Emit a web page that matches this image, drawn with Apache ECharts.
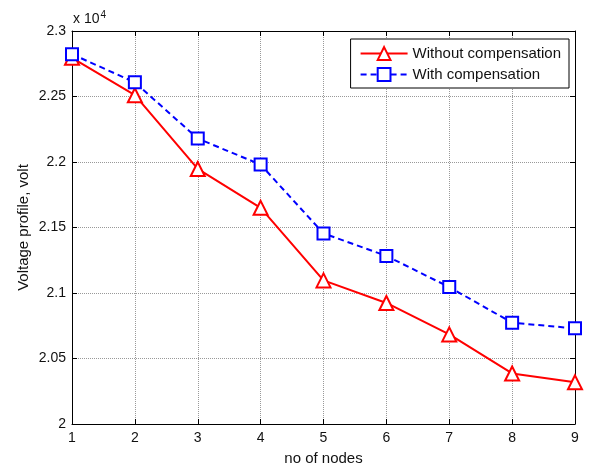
<!DOCTYPE html>
<html>
<head>
<meta charset="utf-8">
<script src="https://cdn.jsdelivr.net/npm/echarts@6/dist/echarts.min.js"></script>
<style>
  html, body { margin: 0; padding: 0; background: #fff; }
  #chart { width: 592px; height: 471px; }
</style>
</head>
<body>
<div id="chart"></div>
<script>
  // node numbers and voltages (volt)
  var nodes = [1, 2, 3, 4, 5, 6, 7, 8, 9];
  var withoutComp = [22795, 22510, 21947, 21650, 21096, 20924, 20684, 20386, 20318];
  var withComp = [22823, 22608, 22179, 21980, 21455, 21283, 21045, 20773, 20730];

  var font = 'Liberation Sans, Arial, sans-serif';

  function pairs(vals) {
    return nodes.map(function (n, i) { return [n, vals[i]]; });
  }

  var myChart = echarts.init(document.getElementById('chart'));

  var gridLine = { show: true, lineStyle: { color: '#999', type: 'dotted', width: 1 } };
  var boxLine = { show: true, onZero: false, lineStyle: { color: '#000', width: 1 } };
  var tick = { show: true, inside: true, length: 5, lineStyle: { color: '#000' } };

  var option = {
    animation: false,
    backgroundColor: '#fff',
    textStyle: { fontFamily: font },
    grid: { left: 72, right: 17, top: 31, bottom: 44 },
    legend: {
      orient: 'vertical',
      right: 23,
      top: 39,
      padding: [7, 8, 6, 9],
      itemGap: 6,
      itemWidth: 47,
      itemHeight: 16,
      borderColor: '#000',
      borderWidth: 1,
      backgroundColor: '#fff',
      textStyle: { fontSize: 15, color: '#111', fontFamily: font },
      data: ['Without compensation', 'With compensation']
    },
    graphic: [{
      type: 'text',
      left: 73,
      top: 10,
      style: {
        text: 'x 10{s|4}',
        fontSize: 14,
        fontFamily: font,
        fill: '#111',
        rich: { s: { fontSize: 10, verticalAlign: 'top', padding: [0, 0, 9, 1] } }
      }
    }],
    xAxis: [{
      type: 'value',
      min: 1,
      max: 9,
      interval: 1,
      name: 'no of nodes',
      nameLocation: 'middle',
      nameGap: 27,
      nameTextStyle: { fontSize: 15, color: '#111' },
      axisLine: boxLine,
      axisTick: tick,
      axisLabel: { fontSize: 14, color: '#111', margin: 7 },
      splitLine: gridLine
    }, {
      type: 'value',
      position: 'top',
      min: 1,
      max: 9,
      interval: 1,
      axisLine: boxLine,
      axisTick: tick,
      axisLabel: { show: false },
      splitLine: { show: false }
    }],
    yAxis: [{
      type: 'value',
      min: 20000,
      max: 23000,
      interval: 500,
      name: 'Voltage profile, volt',
      nameLocation: 'middle',
      nameGap: 41,
      nameMoveOverlap: false,
      nameTextStyle: { fontSize: 15, color: '#111' },
      axisLine: boxLine,
      axisTick: tick,
      axisLabel: {
        fontSize: 14,
        color: '#111',
        margin: 6,
        formatter: function (v) { return String(+(v / 10000).toFixed(2)); }
      },
      splitLine: gridLine
    }, {
      type: 'value',
      position: 'right',
      min: 20000,
      max: 23000,
      interval: 500,
      axisLine: boxLine,
      axisTick: tick,
      axisLabel: { show: false },
      splitLine: { show: false }
    }],
    series: [
      {
        name: 'Without compensation',
        type: 'line',
        data: pairs(withoutComp),
        symbol: 'emptyTriangle',
        symbolSize: 14,
        color: '#ff0000',
        lineStyle: { color: '#ff0000', width: 2 },
        itemStyle: { color: '#ff0000', borderColor: '#ff0000', borderWidth: 2 },
        z: 3
      },
      {
        name: 'With compensation',
        type: 'line',
        data: pairs(withComp),
        symbol: 'emptyRect',
        symbolSize: 12,
        color: '#0000ff',
        lineStyle: { color: '#0000ff', width: 2, type: [6, 4] },
        itemStyle: { color: '#0000ff', borderColor: '#0000ff', borderWidth: 2 },
        z: 4
      }
    ]
  };

  myChart.setOption(option);
</script>
</body>
</html>
